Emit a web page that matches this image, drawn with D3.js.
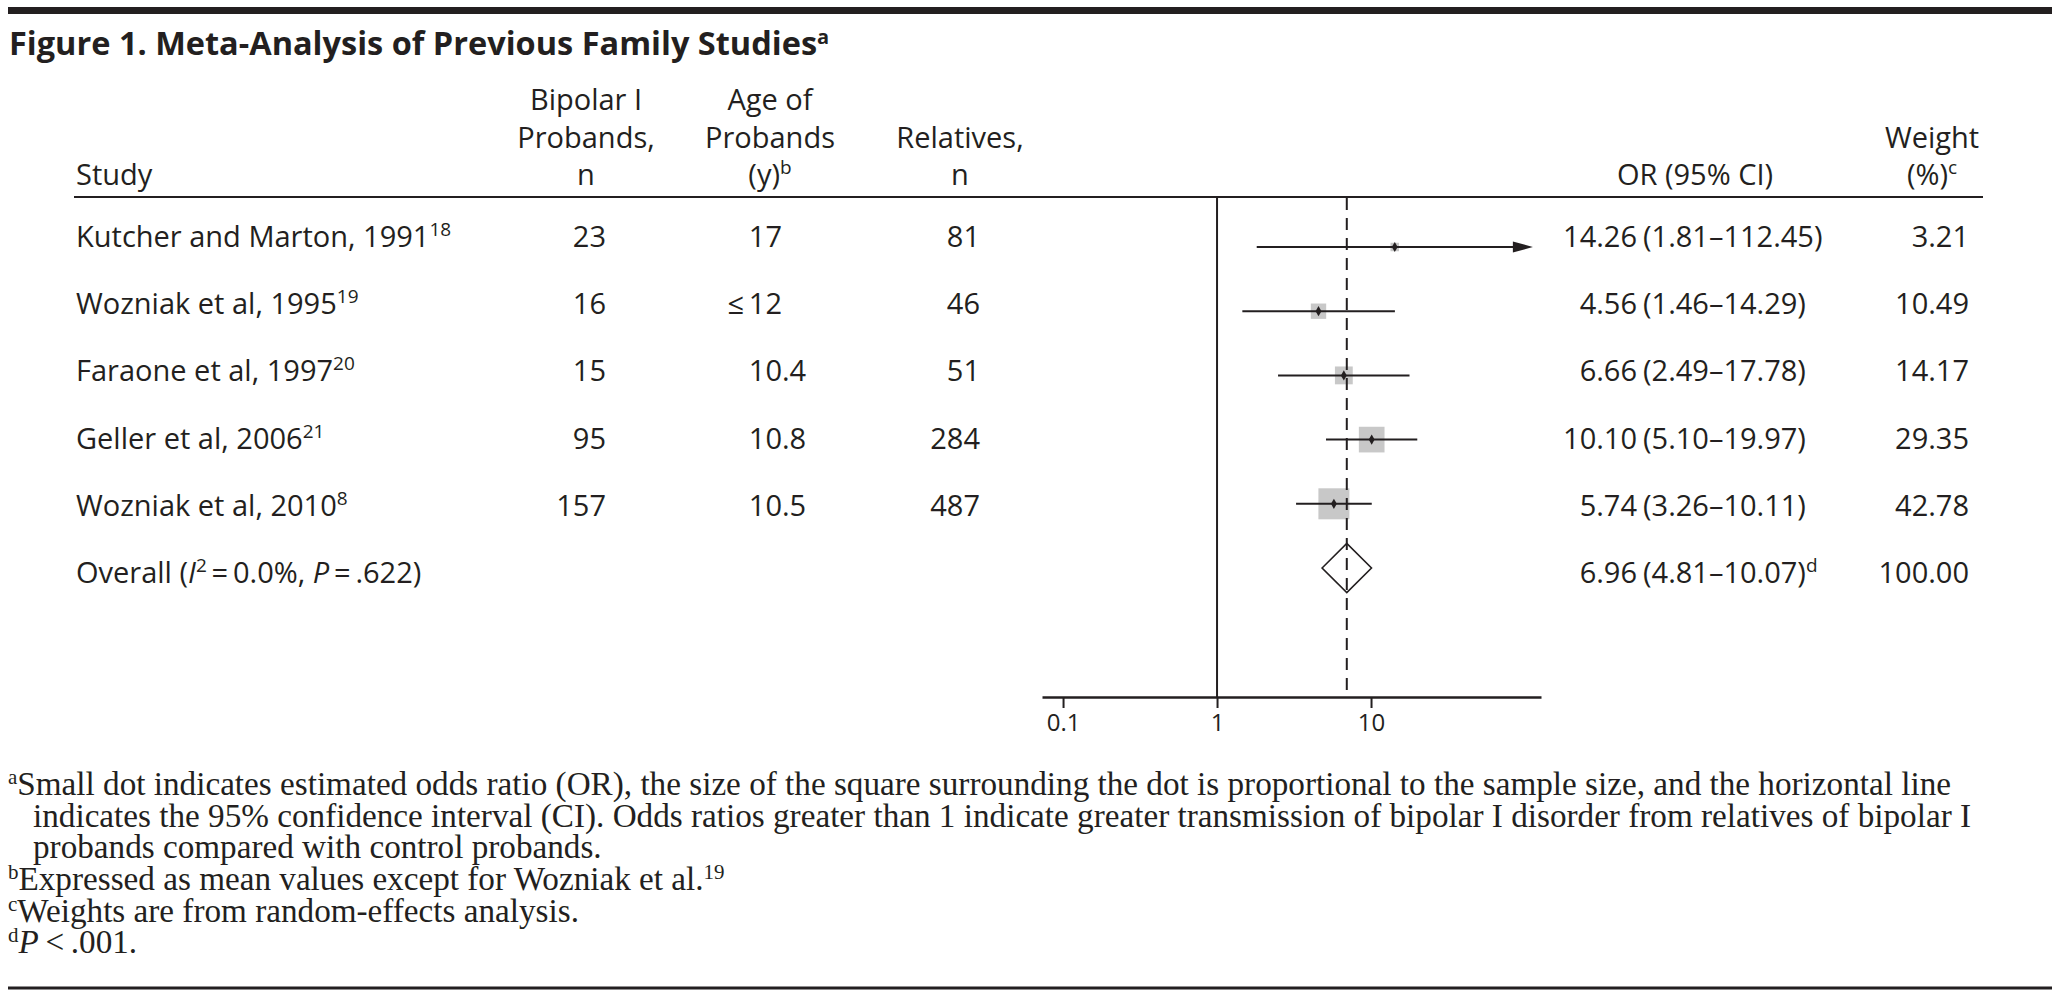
<!doctype html>
<html>
<head>
<meta charset="UTF-8">
<title>Figure 1</title>
<script src="https://cdn.jsdelivr.net/npm/d3@7"></script>
<style>
  body { margin: 0; background: #fff; }
  text { fill: #231f20; }
  .sans { font-family: "Open Sans", sans-serif; }
  .serif { font-family: "Liberation Serif", "DejaVu Serif", serif; }
</style>
</head>
<body>
<div id="chart"></div>
<script>
// ---- data ----
var studies   = ["Kutcher and Marton, 1991", "Wozniak et al, 1995", "Faraone et al, 1997", "Geller et al, 2006", "Wozniak et al, 2010"];
var refs      = ["18", "19", "20", "21", "8"];
var probands  = [23, 16, 15, 95, 157];
var ages      = ["17", "\u2264\u200912", "10.4", "10.8", "10.5"];
var relatives = [81, 46, 51, 284, 487];
var ors       = [14.26, 4.56, 6.66, 10.10, 5.74];
var lows      = [1.81, 1.46, 2.49, 5.10, 3.26];
var highs     = [112.45, 14.29, 17.78, 19.97, 10.11];
var weights   = [3.21, 10.49, 14.17, 29.35, 42.78];
var overall   = [6.96, 4.81, 10.07];   // OR, low, high
var overallWeight = 100;
var tickVals  = [0.1, 1, 10];

var width = 2060, height = 999;
var fs = 29;

var svg = d3.select("#chart").append("svg")
    .attr("width", width)
    .attr("height", height);

var x = d3.scaleLog().domain([0.073, 127]).range([1042, 1541]);
var textY = d3.scalePoint().domain(d3.range(6)).range([247, 583]);
var plotY = d3.scalePoint().domain(d3.range(6)).range([247, 568]);
var side = d3.scaleSqrt().domain([0, 42.78]).range([0, 31]);

function sup(t, s, size, back) {
    t.append("tspan").attr("dy", -11).attr("font-size", size || 19).text(s);
    if (back) t.append("tspan").attr("dy", 11).text(back);
}

// rules
svg.append("rect").attr("x", 8).attr("y", 7).attr("width", 2044).attr("height", 7).attr("fill", "#231f20");
svg.append("line").attr("x1", 74).attr("x2", 1983).attr("y1", 197).attr("y2", 197)
    .style("stroke", "#231f20").style("stroke-width", 2);
svg.append("line").attr("x1", 8).attr("x2", 2052).attr("y1", 988).attr("y2", 988)
    .style("stroke", "#231f20").style("stroke-width", 3);

// title
var title = svg.append("text").attr("class", "sans")
    .attr("x", 9).attr("y", 55)
    .attr("font-size", 32.5).attr("font-weight", "bold")
    .text("Figure 1. Meta-Analysis of Previous Family Studies");
sup(title, "a", 20);

// headers
var head = svg.append("g").attr("class", "sans").attr("font-size", fs);
head.append("text").attr("x", 76).attr("y", 185).text("Study");
function headLines(cx, lines, y0) {
    var t;
    lines.forEach(function (l, i) {
        t = head.append("text").attr("x", cx).attr("y", y0 + i * 37.5)
            .attr("text-anchor", "middle").text(l);
    });
    return t;
}
headLines(586, ["Bipolar I", "Probands,", "n"], 110);
sup(headLines(770, ["Age of", "Probands", "(y)"], 110), "b");
headLines(960, ["Relatives,", "n"], 147.5);
headLines(1695, ["OR (95% CI)"], 185);
sup(headLines(1932, ["Weight", "(%)"], 147.5), "c");

// table body
var body = svg.append("g").attr("class", "sans").attr("font-size", fs);
studies.forEach(function (s, i) {
    var y = textY(i);
    var t = body.append("text").attr("x", 76).attr("y", y).text(s);
    sup(t, refs[i]);
    body.append("text").attr("x", 606).attr("y", y).attr("text-anchor", "end").text(probands[i]);
    var parts = ages[i].split(".");
    body.append("text").attr("x", 782).attr("y", y).attr("text-anchor", "end").text(parts[0]);
    if (parts[1]) body.append("text").attr("x", 782).attr("y", y).text("." + parts[1]);
    body.append("text").attr("x", 980).attr("y", y).attr("text-anchor", "end").text(relatives[i]);
    body.append("text").attr("x", 1637).attr("y", y).attr("text-anchor", "end").text(ors[i].toFixed(2));
    body.append("text").attr("x", 1643).attr("y", y)
        .text("(" + lows[i].toFixed(2) + "\u2013" + highs[i].toFixed(2) + ")");
    body.append("text").attr("x", 1969).attr("y", y).attr("text-anchor", "end").text(weights[i].toFixed(2));
});

// overall row
var yo = textY(5);
var ov = body.append("text").attr("x", 76).attr("y", yo).text("Overall (");
ov.append("tspan").attr("font-style", "italic").text("I");
ov.append("tspan").attr("dy", -11).attr("font-size", 19).text("2");
ov.append("tspan").attr("dy", 11).text("\u2009=\u20090.0%, ");
ov.append("tspan").attr("font-style", "italic").text("P");
ov.append("tspan").text("\u2009=\u2009.622)");
body.append("text").attr("x", 1637).attr("y", yo).attr("text-anchor", "end").text(overall[0].toFixed(2));
sup(body.append("text").attr("x", 1643).attr("y", yo)
    .text("(" + overall[1].toFixed(2) + "\u2013" + overall[2].toFixed(2) + ")"), "d");
body.append("text").attr("x", 1969).attr("y", yo).attr("text-anchor", "end").text(overallWeight.toFixed(2));

// forest plot
var plot = svg.append("g");
var axisY = 697;

plot.append("line").attr("x1", x(1)).attr("x2", x(1)).attr("y1", 198).attr("y2", axisY)
    .style("stroke", "#231f20").style("stroke-width", 2);

var rows = plot.selectAll(".row").data(ors).enter().append("g").attr("class", "row");

rows.append("rect")
    .attr("x", function (d, i) { return x(d) - side(weights[i]) / 2; })
    .attr("y", function (d, i) { return plotY(i) - side(weights[i]) / 2; })
    .attr("width", function (d, i) { return side(weights[i]); })
    .attr("height", function (d, i) { return side(weights[i]); })
    .attr("fill", "#c8c8c8");

var arrowLen = 20;
rows.append("line")
    .attr("x1", function (d, i) { return x(lows[i]); })
    .attr("x2", function (d, i) { return highs[i] > 100 ? x(highs[i]) - arrowLen + 2 : x(highs[i]); })
    .attr("y1", function (d, i) { return plotY(i); })
    .attr("y2", function (d, i) { return plotY(i); })
    .style("stroke", "#231f20").style("stroke-width", 2);

rows.filter(function (d, i) { return highs[i] > 100; })
    .append("path")
    .attr("d", function (d) {
        var i = ors.indexOf(d), tip = x(highs[i]), y = plotY(i);
        return "M" + tip + "," + y + "L" + (tip - arrowLen) + "," + (y - 5.5) + "L" + (tip - arrowLen) + "," + (y + 5.5) + "Z";
    })
    .attr("fill", "#231f20");

// dashed overall line
plot.append("line").attr("x1", x(overall[0])).attr("x2", x(overall[0])).attr("y1", 198).attr("y2", 690)
    .style("stroke", "#231f20").style("stroke-width", 2).style("stroke-dasharray", "12,8");

rows.append("path")
    .attr("transform", function (d, i) { return "translate(" + x(d) + "," + plotY(i) + ")"; })
    .attr("d", d3.symbol(d3.symbolDiamond, 30))
    .attr("fill", "#231f20");

// overall diamond
var yd = plotY(5), hd = 24.5;
plot.append("path")
    .attr("d", "M" + x(overall[1]) + "," + yd + "L" + x(overall[0]) + "," + (yd - hd) +
               "L" + x(overall[2]) + "," + yd + "L" + x(overall[0]) + "," + (yd + hd) + "Z")
    .attr("fill", "none").attr("stroke", "#231f20").attr("stroke-width", 1.6);

// axis
var axis = plot.append("g").attr("class", "sans")
    .attr("transform", "translate(0," + axisY + ")")
    .call(d3.axisBottom(x).tickValues(tickVals).tickFormat(d3.format("")).tickSize(11).tickSizeOuter(0).tickPadding(6));
axis.select(".domain").style("stroke", "#231f20").style("stroke-width", 2.5);
axis.selectAll(".tick line").style("stroke", "#231f20").style("stroke-width", 2);
axis.selectAll(".tick text").attr("font-size", 24).attr("font-family", "Open Sans").style("fill", "#231f20");

// footnotes
var notes = svg.append("g").attr("class", "serif").attr("font-size", 33.2);
var n1 = notes.append("text").attr("x", 8).attr("y", 795);
sup(n1, "a", 21, "Small dot indicates estimated odds ratio (OR), the size of the square surrounding the dot is proportional to the sample size, and the horizontal line");
notes.append("text").attr("x", 33).attr("y", 827)
    .text("indicates the 95% confidence interval (CI). Odds ratios greater than 1 indicate greater transmission of bipolar I disorder from relatives of bipolar I");
notes.append("text").attr("x", 33).attr("y", 858).text("probands compared with control probands.");
var n4 = notes.append("text").attr("x", 8).attr("y", 890);
sup(n4, "b", 21, "Expressed as mean values except for Wozniak et al.");
sup(n4, "19", 21);
var n5 = notes.append("text").attr("x", 8).attr("y", 922);
sup(n5, "c", 21, "Weights are from random-effects analysis.");
var n6 = notes.append("text").attr("x", 8).attr("y", 953);
sup(n6, "d", 21);
n6.append("tspan").attr("dy", 11).attr("font-style", "italic").text("P");
n6.append("tspan").text("\u2009<\u2009.001.");
</script>
</body>
</html>
